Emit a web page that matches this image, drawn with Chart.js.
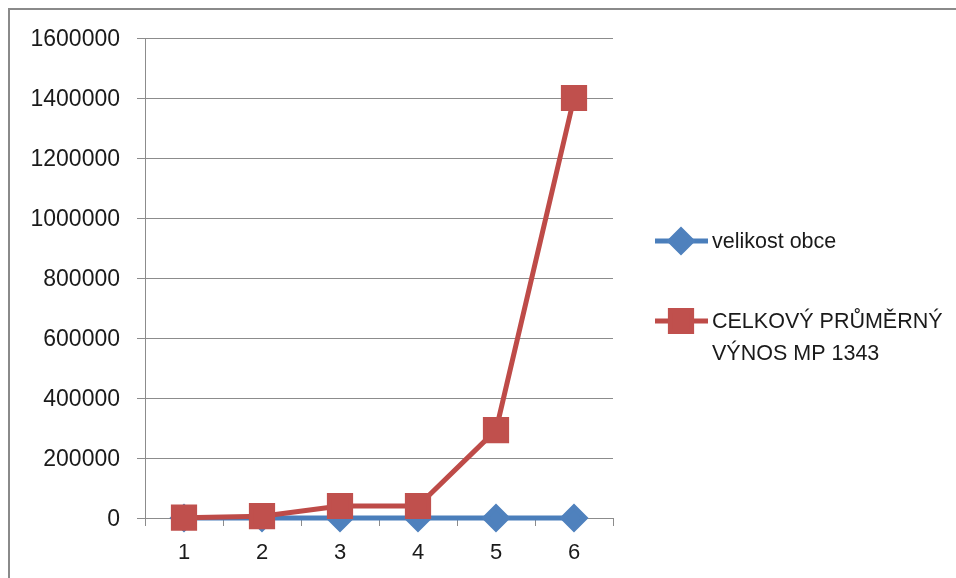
<!DOCTYPE html>
<html>
<head>
<meta charset="utf-8">
<script src="https://cdn.jsdelivr.net/npm/chart.js@4.4.0/dist/chart.umd.min.js"></script>
<style>
html,body{margin:0;padding:0;background:#fff;}
#wrap{position:relative;width:956px;height:578px;overflow:hidden;}
#frame{position:absolute;left:8px;top:8px;width:1000px;height:700px;border-left:2px solid #8a8a8a;border-top:2px solid #8a8a8a;pointer-events:none;}
</style>
</head>
<body>
<div id="wrap"><canvas id="myChart" width="956" height="578"></canvas><div id="frame"></div></div>
<script>
// data
var categories = ['1', '2', '3', '4', '5', '6'];
var velikostObce = [1, 2, 3, 4, 5, 6];
var celkovyVynos = [1000, 6000, 40000, 40000, 293000, 1400000];
var seriesNames = ['velikost obce', 'CELKOVÝ PRŮMĚRNÝ VÝNOS MP 1343'];
var legendLines = [['velikost obce'], ['CELKOVÝ PRŮMĚRNÝ', 'VÝNOS MP 1343']];
var yMax = 1600000, yStep = 200000;

var FONT = '"Liberation Sans", Arial, sans-serif';

// legend drawn by hand because of the two-line label
var sideLegend = {
  id: 'sideLegend',
  afterDraw: function(chart) {
    var ctx = chart.ctx;
    var ys = [241, 321];
    ctx.save();
    chart.data.datasets.forEach(function(ds, i) {
      var y = ys[i];
      ctx.strokeStyle = ds.borderColor;
      ctx.lineWidth = ds.borderWidth;
      ctx.beginPath();
      ctx.moveTo(655, y);
      ctx.lineTo(708, y);
      ctx.stroke();
      ctx.fillStyle = ds.pointBackgroundColor;
      ctx.strokeStyle = ds.pointBorderColor;
      Chart.helpers.drawPoint(ctx, {pointStyle: ds.pointStyle, radius: ds.pointRadius, rotation: 0, borderWidth: 1}, 681, y);
      ctx.fillStyle = '#1a1a1a';
      ctx.font = '21.5px ' + FONT;
      ctx.textBaseline = 'middle';
      legendLines[i].forEach(function(t, j) {
        ctx.fillText(t, 712, y + 1 + j * 32);
      });
    });
    ctx.restore();
  }
};

var ctx = document.getElementById('myChart').getContext('2d');
var chart = new Chart(ctx, {
  type: 'line',
  data: {
    labels: categories,
    datasets: [{
      label: seriesNames[0],
      data: velikostObce,
      borderColor: '#4A7EBB',
      borderWidth: 5,
      pointStyle: 'rectRot',
      pointRadius: 11,
      pointBackgroundColor: '#4F81BD',
      pointBorderColor: '#4F81BD',
      tension: 0,
      clip: false,
      order: 2
    }, {
      label: seriesNames[1],
      data: celkovyVynos,
      borderColor: '#BE4B48',
      borderWidth: 5,
      pointStyle: 'rect',
      pointRadius: 15,
      pointBackgroundColor: '#C0504D',
      pointBorderColor: '#C0504D',
      tension: 0,
      clip: false,
      order: 1
    }]
  },
  options: {
    responsive: false,
    animation: false,
    layout: {padding: {top: 38, right: 343, left: 0, bottom: 0}},
    plugins: {legend: {display: false}, tooltip: {enabled: false}},
    scales: {
      x: {
        offset: true,
        grid: {offset: true, drawOnChartArea: false, drawTicks: true, tickLength: 8, color: '#8c8c8c'},
        border: {color: '#8c8c8c', width: 1},
        ticks: {color: '#1a1a1a', font: {family: FONT, size: 22}, padding: 14, maxRotation: 0},
        afterFit: function(s) { s.height = 60; }
      },
      y: {
        min: 0,
        max: yMax,
        grid: {color: '#8c8c8c', tickLength: 8},
        border: {color: '#8c8c8c', width: 1},
        ticks: {
          stepSize: yStep,
          color: '#1a1a1a',
          font: {family: FONT, size: 23},
          padding: 17,
          labelOffset: 2,
          callback: function(v) { return String(v); }
        },
        afterFit: function(s) { s.width = 145; }
      }
    }
  },
  plugins: [sideLegend]
});
</script>
</body>
</html>
